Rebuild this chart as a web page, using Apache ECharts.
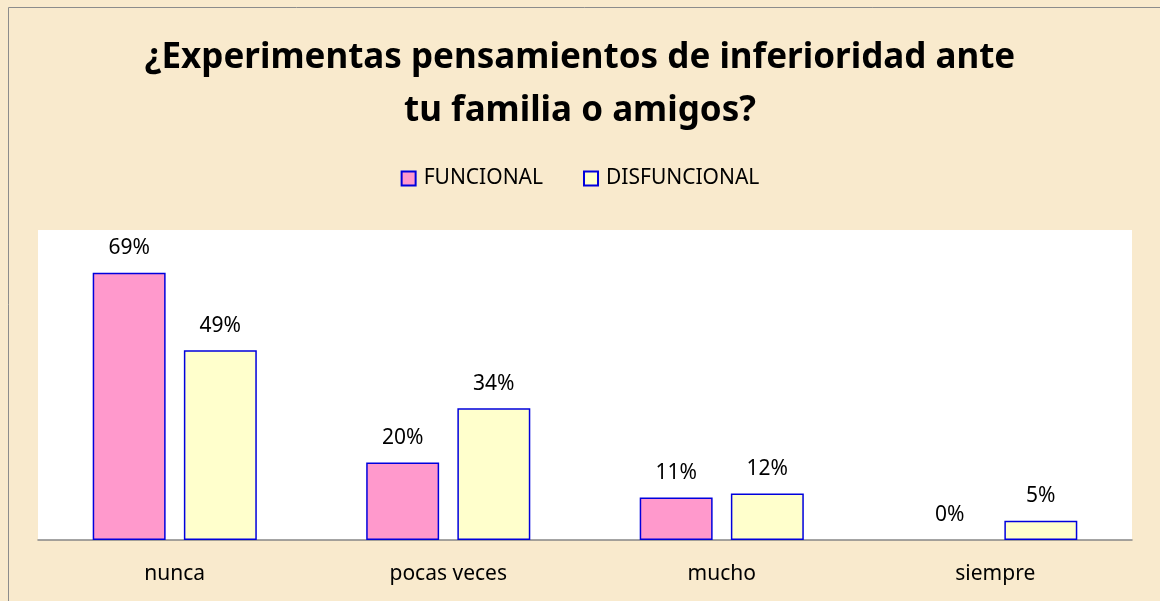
<!DOCTYPE html>
<html>
<head>
<meta charset="utf-8">
<script src="https://cdn.jsdelivr.net/npm/echarts@6/dist/echarts.min.js"></script>
<style>
  html, body { margin: 0; padding: 0; background: #f8e8cb; }
  #main { width: 1160px; height: 601px; }
</style>
</head>
<body>
<div id="main"></div>
<script>
var categorias = ['nunca', 'pocas veces', 'mucho', 'siempre'];
var funcional = [69, 20, 11, 0];
var disfuncional = [49, 34, 12, 5];

var fuente = "'Noto Sans', 'Open Sans', sans-serif";

// las barras en 0 no llevan borde
function barras(valores) {
    return valores.map(function (v) {
        return v === 0 ? { value: v, itemStyle: { borderWidth: 0 } } : v;
    });
}

var etiqueta = {
    show: true,
    position: 'top',
    distance: 14,
    formatter: '{c}%',
    color: '#000',
    fontSize: 21,
    fontFamily: fuente
};

var myChart = echarts.init(document.getElementById('main'));

var option = {
    backgroundColor: '#f9eacd',
    textStyle: { fontFamily: fuente },
    title: {
        text: '¿Experimentas pensamientos de inferioridad ante\ntu familia o amigos?',
        left: 'center',
        top: 27,
        textStyle: {
            fontFamily: fuente,
            fontSize: 35,
            fontWeight: 'bold',
            color: '#000',
            lineHeight: 53
        }
    },
    legend: {
        data: ['FUNCIONAL', 'DISFUNCIONAL'],
        top: 163,
        left: 'center',
        itemWidth: 14,
        itemHeight: 14,
        itemGap: 40,
        icon: 'rect',
        textStyle: { fontFamily: fuente, fontSize: 21, color: '#000', padding: [0, 0, 0, 3] }
    },
    graphic: [
        {
            type: 'rect',
            shape: { x: 8.5, y: 7.5, width: 1160, height: 610 },
            style: { fill: 'none', stroke: '#8c8c8c', lineWidth: 1 },
            silent: true
        }
    ],
    grid: {
        left: 38,
        right: 28,
        top: 230,
        bottom: 61,
        show: true,
        backgroundColor: '#ffffff',
        borderWidth: 0
    },
    xAxis: {
        type: 'category',
        data: categorias,
        axisLine: { lineStyle: { color: '#868686', width: 1.5 } },
        axisTick: { show: false },
        axisLabel: { color: '#000', fontSize: 21, margin: 24, fontFamily: fuente }
    },
    yAxis: {
        type: 'value',
        min: 0,
        max: 80,
        show: false,
        splitLine: { show: false }
    },
    series: [
        {
            name: 'FUNCIONAL',
            type: 'bar',
            data: barras(funcional),
            barGap: '25%',
            barCategoryGap: '40%',
            itemStyle: { color: '#ff99cc', borderColor: '#0000dd', borderWidth: 1.5 },
            label: etiqueta
        },
        {
            name: 'DISFUNCIONAL',
            type: 'bar',
            data: barras(disfuncional),
            itemStyle: { color: '#ffffcc', borderColor: '#0000dd', borderWidth: 1.5 },
            label: etiqueta
        }
    ]
};

myChart.setOption(option);
</script>
</body>
</html>
